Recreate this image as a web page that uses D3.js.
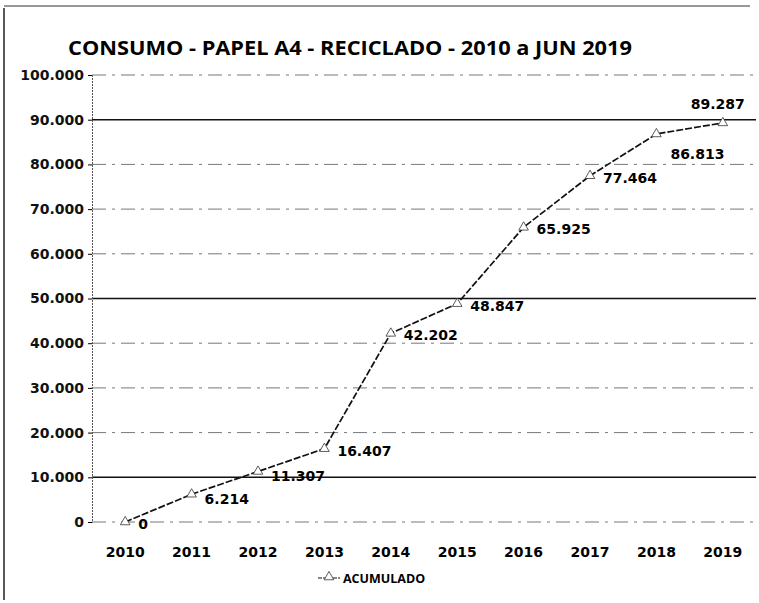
<!DOCTYPE html>
<html>
<head>
<meta charset="utf-8">
<script src="https://cdn.jsdelivr.net/npm/d3@7"></script>
<style>
  body { margin: 0; background: #fff; overflow: hidden; }
  svg { display: block; }
  svg text { font-family: "Open Sans", "DejaVu Sans", sans-serif; }
</style>
</head>
<body>
<div id="chart"></div>
<script>
var years = ["2010", "2011", "2012", "2013", "2014", "2015", "2016", "2017", "2018", "2019"];
var acumulado = [0, 6214, 11307, 16407, 42202, 48847, 65925, 77464, 86813, 89287];
var yTicks = [0, 10000, 20000, 30000, 40000, 50000, 60000, 70000, 80000, 90000, 100000];
var strongLines = [10000, 50000, 90000];

var W = 759, H = 603;
var margins = { top: 75, right: 3, bottom: 81, left: 92 },
  width = W - margins.left - margins.right,
  height = H - margins.top - margins.bottom;

var svg = d3.select("#chart").append("svg")
  .attr("width", W).attr("height", H);

// scanned frame
svg.append("line").attr("x1", 4).attr("x2", 4).attr("y1", 8).attr("y2", 600)
  .attr("stroke", "#222").attr("stroke-width", 1.5);
svg.append("line").attr("x1", 4).attr("x2", 750).attr("y1", 6).attr("y2", 6)
  .attr("stroke", "#333").attr("stroke-width", 1);

svg.append("text").attr("x", 68).attr("y", 55)
  .style("font-size", "20px").style("font-weight", "bold")
  .style("font-family", "'Open Sans', sans-serif")
  .attr("textLength", 564).attr("lengthAdjust", "spacingAndGlyphs")
  .text("CONSUMO - PAPEL A4 -  RECICLADO - 2010 a JUN 2019");

var g = svg.append("g").attr("transform", "translate(" + margins.left + "," + margins.top + ")");

var x = d3.scaleBand().domain(years).range([0, width]);
var y = d3.scaleLinear().domain([0, 100000]).range([height, 0]);
var fmt = function (v) { return v === 0 ? "0" : d3.format(",")(v).replace(/,/g, "."); };

// gridlines
g.append("g").selectAll("line").data(yTicks).join("line")
  .attr("x1", 0).attr("x2", width)
  .attr("y1", function (d) { return y(d); }).attr("y2", function (d) { return y(d); })
  .attr("stroke", function (d) { return strongLines.indexOf(d) >= 0 ? "#111" : "#777"; })
  .attr("stroke-width", function (d) { return strongLines.indexOf(d) >= 0 ? 1.5 : 1; })
  .attr("stroke-dasharray", function (d) { return strongLines.indexOf(d) >= 0 ? null : "14,6,3,6"; });

// y axis
var yAxis = g.append("g").call(d3.axisLeft(y).tickValues(yTicks).tickSize(4).tickFormat(fmt));
yAxis.select(".domain").attr("stroke", "#555").attr("stroke-dasharray", "2,1");
yAxis.selectAll("text").attr("x", -8)
  .style("font-size", "14px").style("font-weight", "bold").attr("fill", "#111")
  .style("font-family", "'DejaVu Sans', sans-serif");

// x labels
g.append("g").selectAll("text").data(years).join("text")
  .attr("x", function (d) { return x(d) + x.bandwidth() / 2; })
  .attr("y", height + 35)
  .attr("text-anchor", "middle")
  .style("font-size", "14px").style("font-weight", "bold")
  .style("font-family", "'DejaVu Sans', sans-serif")
  .text(function (d) { return d; });

var pts = years.map(function (d, i) { return { year: d, v: acumulado[i] }; });
var px = function (d) { return x(d.year) + x.bandwidth() / 2; };

g.append("path").datum(pts)
  .attr("fill", "none").attr("stroke", "#111").attr("stroke-width", 1.7)
  .attr("stroke-dasharray", "7,2")
  .attr("d", d3.line().x(px).y(function (d) { return y(d.v); }));

var tri = d3.symbol().type(d3.symbolTriangle).size(40);
g.append("g").selectAll("path").data(pts).join("path")
  .attr("transform", function (d) { return "translate(" + px(d) + "," + y(d.v) + ")"; })
  .attr("d", tri).attr("fill", "#fff").attr("stroke", "#333").attr("stroke-width", 0.8);

// data labels (Excel "right" placement, with a few moved to avoid the line)
g.append("g").selectAll("text").data(pts).join("text")
  .attr("x", function (d, i) { return px(d) + (i === 9 ? -32 : (i === 8 ? 14 : 13)); })
  .attr("y", function (d, i) { return y(d.v) + (i === 9 ? -14 : (i === 8 ? 25 : (i === 1 || i === 2 ? 10 : 7))); })
  .style("font-size", "14px").style("font-weight", "bold")
  .style("font-family", "'DejaVu Sans', sans-serif")
  .text(function (d) { return fmt(d.v); });

// legend
var lg = svg.append("g").attr("transform", "translate(318,578)");
lg.append("line").attr("x1", 0).attr("x2", 22).attr("y1", 0).attr("y2", 0)
  .attr("stroke", "#111").attr("stroke-width", 1.2).attr("stroke-dasharray", "4,1");
lg.append("path").attr("transform", "translate(11,-1)").attr("d", tri)
  .attr("fill", "#fff").attr("stroke", "#333").attr("stroke-width", 0.8);
lg.append("text").attr("x", 25).attr("y", 5)
  .style("font-size", "12.5px").style("font-weight", "bold")
  .style("font-family", "'Open Sans', sans-serif")
  .text("ACUMULADO");
</script>
</body>
</html>
